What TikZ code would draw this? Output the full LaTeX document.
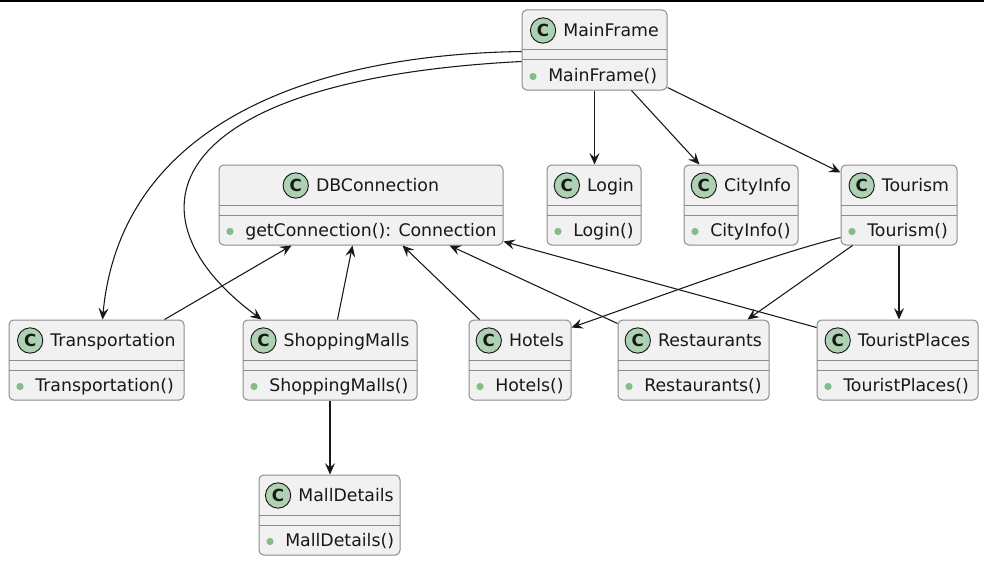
\documentclass[tikz,border=0pt]{standalone}
\usepackage{fontspec}
\setmainfont{DejaVu Sans}
\usetikzlibrary{arrows.meta,calc,fit}
\definecolor{boxfill}{HTML}{F1F1F1}
\definecolor{boxline}{HTML}{8C8C8C}
\definecolor{spot}{HTML}{ADD1B2}
\definecolor{dotg}{HTML}{84BE84}
\definecolor{ink}{HTML}{181818}
\tikzset{
  classbox/.style={draw=boxline, fill=boxfill, rounded corners=3.5pt, line width=0.75pt, inner sep=0pt},
  sepline/.style={draw=boxline, line width=0.75pt},
  spotc/.style={draw=ink, fill=spot, line width=0.7pt},
  titletext/.style={inner sep=0pt, anchor=base, font=\fontsize{13}{15}\selectfont, text=ink},
  methtext/.style={inner sep=0pt, anchor=base west, font=\fontsize{13}{15}\selectfont, text=ink},
  spotletter/.style={inner sep=0pt, font=\fontsize{12.5}{13}\selectfont\bfseries, text=ink},
  conn/.style={draw=ink, line width=0.8pt, -{Stealth[length=8.5pt,width=7.5pt,inset=3.2pt]}},
}
% #1 name, #2 left, #3 right, #4 top, #5 title, #6 method
\newcommand\umlclass[6]{%
  \node[classbox, fit={(#2,#4) (#3,#4+80)}] (#1) {};
  \draw[sepline] (#2,#4+40) -- (#3,#4+40);
  \draw[sepline] (#2,#4+50) -- (#3,#4+50);
  \node[titletext] (#1-t) at ({(#2+#3)/2},#4+26.5) {\hspace{24.75pt}#5};
  \draw[spotc] ($(#1-t.base west)+(13,-6)$) circle[radius=9.5pt];
  \node[spotletter] at ($(#1-t.base west)+(13,-6)$) {C};
  \fill[dotg] (#2+11,#4+66.5) circle[radius=2.7pt];
  \node[methtext] at (#2+26,#4+71) {#6};
}
\begin{document}
\begin{tikzpicture}[x=0.75pt,y=-0.75pt]
\fill[white] (0,0) rectangle (984,560);
\useasboundingbox (0,0) rectangle (984,560);
\fill[black] (0,0) rectangle (984,2);

\umlclass{MainFrame}{522}{667}{10}{MainFrame}{MainFrame()}
\umlclass{DB}{219}{503}{165}{DBConnection}{getConnection(): Connection}
\umlclass{Login}{547}{641}{165}{Login}{Login()}
\umlclass{CityInfo}{684}{798}{165}{CityInfo}{CityInfo()}
\umlclass{Tourism}{841}{957}{165}{Tourism}{Tourism()}
\umlclass{Transportation}{9}{184}{320}{Transportation}{Transportation()}
\umlclass{ShoppingMalls}{243}{417}{320}{ShoppingMalls}{ShoppingMalls()}
\umlclass{Hotels}{469}{571}{320}{Hotels}{Hotels()}
\umlclass{Restaurants}{618}{769}{320}{Restaurants}{Restaurants()}
\umlclass{TouristPlaces}{817}{978}{320}{TouristPlaces}{TouristPlaces()}
\umlclass{MallDetails}{259}{400}{475}{MallDetails}{MallDetails()}

% MainFrame dependencies
\draw[conn] (MainFrame.south) -- (MainFrame.south |- Login.north);
\draw[conn] ($(MainFrame.south west)+(110,0)$) -- ($(CityInfo.north west)+(16,0)$);
\draw[conn] ($(MainFrame.south east)+(0,-3)$) -- ($(Tourism.north west)+(0,8)$);
\draw[conn] ($(MainFrame.north west)+(0,42)$) .. controls (300,55) and (120,130) .. ($(Transportation.north west)+(94,0)$);
\draw[conn] ($(MainFrame.north west)+(0,52)$) .. controls (160,80) and (120,215) .. ($(ShoppingMalls.north west)+(19,0)$);

% Tourism
\draw[conn] ($(Tourism.south west)+(0,-8)$) .. controls (770,255) and (650,300) .. ($(Hotels.north east)+(0,8)$);
\draw[conn] ($(Tourism.south west)+(12,0)$) -- ($(Restaurants.north west)+(130,0)$);
\draw[conn] (Tourism.south) -- (Tourism.south |- TouristPlaces.north);

% to DBConnection
\draw[conn] ($(Transportation.north west)+(156,0)$) -- ($(DB.south west)+(73,0)$);
\draw[conn] ($(ShoppingMalls.north west)+(95,0)$) -- ($(DB.south west)+(134,0)$);
\draw[conn] ($(Hotels.north west)+(11,0)$) -- ($(DB.south west)+(184,0)$);
\draw[conn] ($(Restaurants.north west)+(0,4)$) -- ($(DB.south west)+(231,0)$);
\draw[conn] ($(TouristPlaces.north west)+(0,8)$) -- ($(DB.south east)+(0,-4)$);

% ShoppingMalls -> MallDetails
\draw[conn] (ShoppingMalls.south) -- (ShoppingMalls.south |- MallDetails.north);
\end{tikzpicture}
\end{document}
